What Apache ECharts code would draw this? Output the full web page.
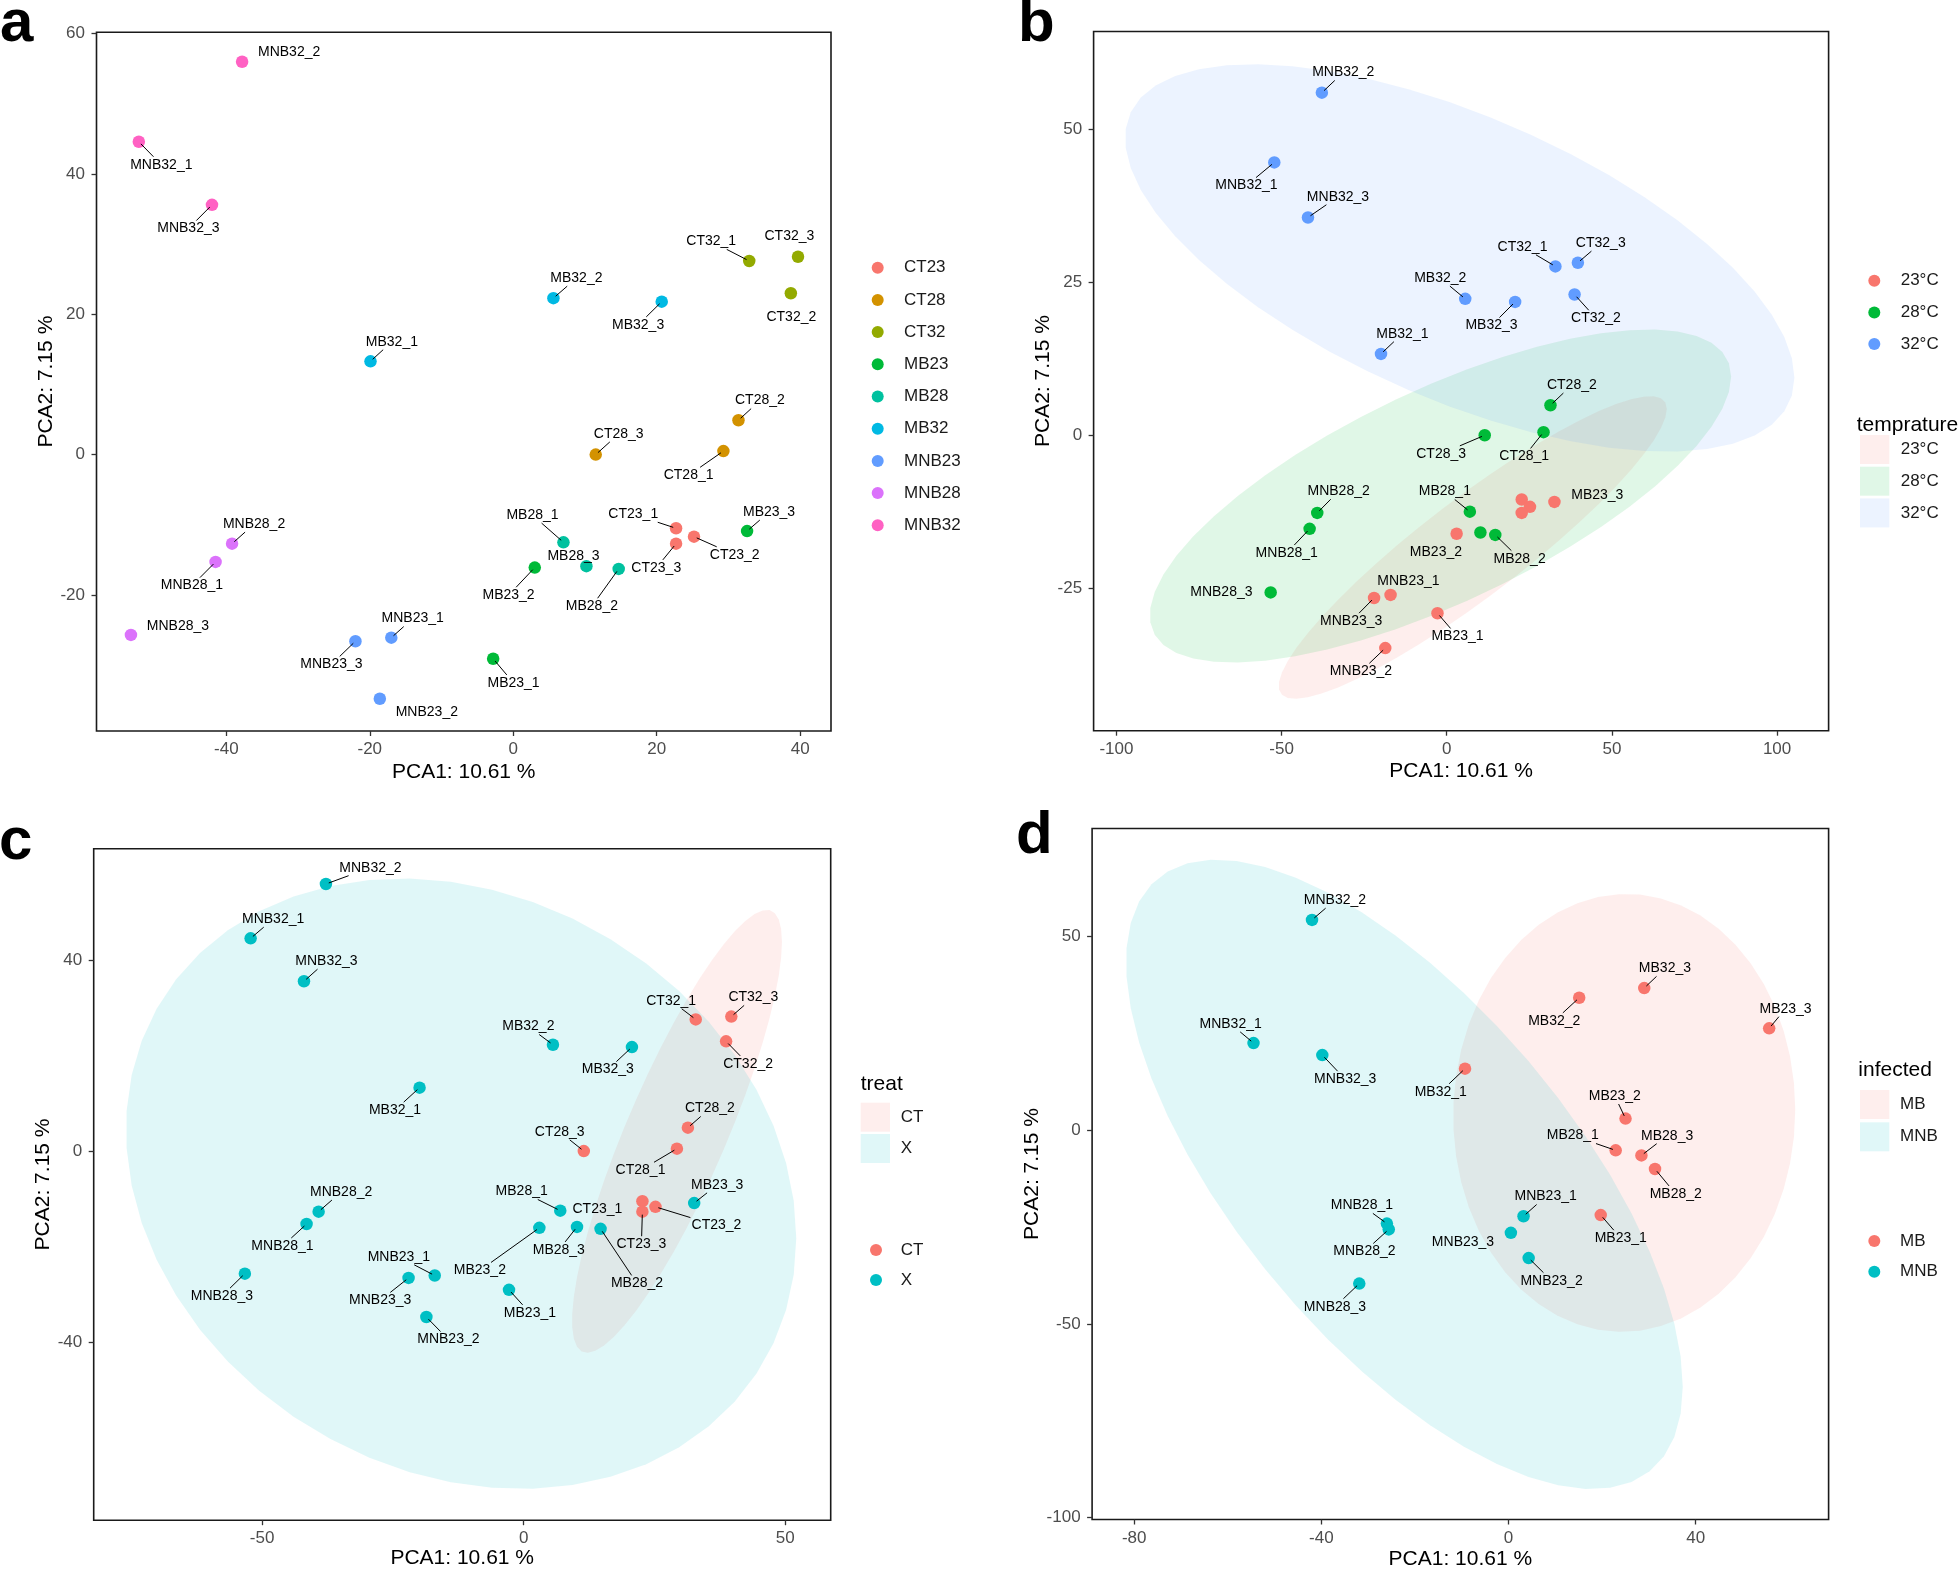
<!DOCTYPE html>
<html>
<head>
<meta charset="utf-8">
<script src="https://cdn.jsdelivr.net/npm/echarts@6/dist/echarts.min.js"></script>
<style>
html,body{margin:0;padding:0;background:#fff;}
#chart{width:1960px;height:1571px;}
</style>
</head>
<body>
<div id="chart"></div>
<script>
// ---------------- DATA ----------------
const sampleNames = ['CT23_1','CT23_2','CT23_3','CT28_1','CT28_2','CT28_3','CT32_1','CT32_2','CT32_3',
  'MB23_1','MB23_2','MB23_3','MB28_1','MB28_2','MB28_3','MB32_1','MB32_2','MB32_3',
  'MNB23_1','MNB23_2','MNB23_3','MNB28_1','MNB28_2','MNB28_3','MNB32_1','MNB32_2','MNB32_3'];
const pca1 = [22.7, 25.2, 22.7, 29.3, 31.4, 11.5, 32.9, 38.7, 39.7,
  -2.8, 3.0, 32.6, 7.0, 14.7, 10.2, -19.9, 5.6, 20.7,
  -17.0, -18.6, -22.0, -41.5, -39.2, -53.3, -52.2, -37.8, -42.0];
const pca2 = [-10.5, -11.7, -12.7, 0.5, 4.9, 0.0, 27.6, 23.0, 28.2,
  -29.1, -16.1, -10.9, -12.5, -16.3, -15.9, 13.3, 22.3, 21.8,
  -26.1, -34.8, -26.6, -15.3, -12.7, -25.7, 44.6, 56.0, 35.6];

const infNames = ['MB23_1','MB23_2','MB23_3','MB28_1','MB28_2','MB28_3','MB32_1','MB32_2','MB32_3',
  'MNB23_1','MNB23_2','MNB23_3','MNB28_1','MNB28_2','MNB28_3','MNB32_1','MNB32_2','MNB32_3'];
const infPca1 = [19.7, 25.0, 55.7, 22.9, 31.3, 28.4, -9.3, 15.1, 29.0,
  3.2, 4.3, 0.5, -26.0, -25.6, -31.9, -54.5, -42.0, -39.8];
const infPca2 = [-21.9, 3.0, 26.3, -5.2, -10.0, -6.5, 15.9, 34.2, 36.7,
  -22.2, -33.0, -26.5, -24.1, -25.6, -39.6, 22.5, 54.3, 19.4];

const groupLevels = ['CT23','CT28','CT32','MB23','MB28','MB32','MNB23','MNB28','MNB32'];
const tempLevels = ['23°C','28°C','32°C'];
const treatLevels = ['CT','X'];
const infectedLevels = ['MB','MNB'];

const ticksAx = [-40,-20,0,20,40], ticksAy = [-20,0,20,40,60];
const ticksBx = [-100,-50,0,50,100], ticksBy = [-25,0,25,50];
const ticksCx = [-50,0,50], ticksCy = [-40,0,40];
const ticksDx = [-80,-40,0,40], ticksDy = [-100,-50,0,50];

const xTitle = 'PCA1: 10.61 %', yTitle = 'PCA2: 7.15 %';

// ---------------- STYLE / LAYOUT ----------------
const FONT = '"Liberation Sans", Arial, sans-serif';
const groupColors = ['#F8766D','#D39200','#93AA00','#00BA38','#00C19F','#00B9E3','#619CFF','#DB72FB','#FF61C3'];
const tempColors = ['#F8766D','#00BA38','#619CFF'];
const twoColors = ['#F8766D','#00BFC4'];
const FILL_ALPHA = 0.12;

const grids = [
  {left: 96.5, top: 32.3, width: 734.5, height: 698.7},
  {left: 1093.6, top: 31.5, width: 735, height: 699.2},
  {left: 93.7, top: 848.7, width: 737, height: 671.5},
  {left: 1092.1, top: 828.5, width: 736.5, height: 691}
];
const ranges = [
  {x: [-58.1, 44.3], y: [-39.4, 60.2]},
  {x: [-106.9, 115.6], y: [-48.3, 66.0]},
  {x: [-82.2, 58.7], y: [-77.4, 63.4]},
  {x: [-89.0, 68.4], y: [-100.5, 77.9]}
];
const xNameGap = [41, 41, 38, 39.5];
const yNameGap = [49.4, 50, 46.6, 59.2];

// label offsets (px): [dx, dy, segment]
const offA = {
  MNB32_2:[47,-10,0], MNB32_1:[22.5,23,1], MNB32_3:[-23.6,23.7,1],
  CT32_1:[-38,-19.6,1], CT32_3:[-8.6,-20.7,0], CT32_2:[0.5,23.7,0],
  MB32_2:[23,-20,1], MB32_3:[-23.6,23.2,1], MB32_1:[21.4,-19.6,1],
  CT28_2:[21.4,-19.6,1], CT28_3:[23,-20.7,1], CT28_1:[-34.8,24.2,1],
  CT23_1:[-42.8,-14,1], CT23_3:[-19.8,24.2,1], CT23_2:[40.7,18.1,1],
  MB23_3:[22,-19,1], MB28_1:[-31,-27.2,1], MB28_3:[-12.9,-10.5,0],
  MB28_2:[-26.8,37.3,1], MB23_2:[-26.2,27.7,1],
  MNB28_2:[22,-19.6,1], MNB28_1:[-23.6,23.7,1], MNB28_3:[47,-8.6,0],
  MNB23_1:[21.4,-19.1,1], MNB23_3:[-24,23.2,1], MB23_1:[20.4,24.2,1], MNB23_2:[47,13.6,0]
};
const offB = {
  MNB32_2:[21.4,-20.2,1], MNB32_1:[-27.9,23.2,1], MNB32_3:[30,-20.7,1],
  CT32_1:[-32.9,-19.6,1], CT32_3:[22.9,-19.6,1], CT32_2:[21.4,23.7,1],
  MB32_2:[-25,-20.7,1], MB32_3:[-23.6,23.7,1], MB32_1:[21.4,-20.2,1],
  CT28_2:[21.4,-20.2,1], CT28_3:[-43.6,18.6,1], CT28_1:[-19.3,24.2,1],
  MNB28_2:[21.4,-21.7,1], MB28_1:[-25,-20.2,1], MB23_3:[42.9,-6.5,0],
  MB23_2:[-20.7,18.1,0], MB28_2:[24.3,23.7,1], MNB28_1:[-22.9,24.2,1],
  MNB28_3:[-49.3,0,0], MNB23_1:[17.9,-14.1,0], MNB23_3:[-22.9,23.2,1],
  MB23_1:[20,23.2,1], MNB23_2:[-24.3,23.2,1]
};
const offC = {
  MNB32_2:[44.5,-16.3,1], MNB32_1:[22.5,-19.2,1], MNB32_3:[22.5,-20.1,1],
  MB32_2:[-24.6,-18.2,1], MB32_3:[-24.1,22.5,1], MB32_1:[-24.6,22.5,1],
  CT32_1:[-24.6,-18.7,1], CT32_3:[22,-19.2,1], CT32_2:[22,22.5,1],
  CT28_2:[22,-19.2,1], CT28_3:[-24.1,-19.2,1], CT28_1:[-36.4,21.6,1],
  MB23_3:[23,-18.2,1], MB28_1:[-38.6,-19.2,1], CT23_1:[-45,8.1,0],
  CT23_3:[-1,32.6,1], CT23_2:[61,18.7,1], MB28_3:[-18.2,23,1],
  MB28_2:[36.4,54.6,1], MB23_2:[-59.5,42.6,1], MB23_1:[20.9,23,1],
  MNB28_2:[22.5,-19.6,1], MNB28_1:[-24.1,22,1], MNB28_3:[-23,22.5,1],
  MNB23_1:[-35.9,-18.7,1], MNB23_3:[-28.4,22.5,1], MNB23_2:[22,22.5,1]
};
const offD = {
  MNB32_2:[22.9,-19.7,1], MNB32_1:[-22.9,-19.2,1], MNB32_3:[22.9,24.1,1],
  MB32_1:[-24.3,23.1,1], MB32_2:[-25,23.1,1], MB32_3:[20.7,-19.7,1],
  MB23_3:[16.4,-19.7,1], MB23_2:[-10.7,-22.6,1], MB28_1:[-42.9,-14.8,1],
  MB28_3:[25.7,-19.7,1], MB28_2:[20.7,25,1], MB23_1:[20,23.1,1],
  MNB23_1:[22.1,-19.7,1], MNB23_3:[-47.9,9.3,0], MNB23_2:[22.9,22.6,1],
  MNB28_1:[-25,-18.2,1], MNB28_2:[-24.3,22.1,1], MNB28_3:[-24.3,23.1,1]
};

// ---------------- HELPERS ----------------
const groupOf = n => n.split('_')[0];
const tempOf = n => groupOf(n).slice(-2) + '°C';
const treatOf = n => n.startsWith('CT') ? 'CT' : 'X';
const infOf = n => n.startsWith('MNB') ? 'MNB' : 'MB';

function hexToRgba(hex, a) {
  const v = parseInt(hex.slice(1), 16);
  return `rgba(${(v>>16)&255},${(v>>8)&255},${v&255},${a})`;
}

// MASS::cov.trob (multivariate t, nu = 5)
function covTrob(P) {
  const n = P.length, p = 2, nu = 5, tol = 0.01, maxit = 25;
  const wmean = w => {
    let sw = 0, sx = 0, sy = 0;
    P.forEach((q, i) => { sw += w[i]; sx += w[i]*q[0]; sy += w[i]*q[1]; });
    return [sx/sw, sy/sw];
  };
  let w = new Array(n).fill(1);
  let loc = wmean(w);
  let X;
  for (let it = 0; it < maxit; it++) {
    const w0 = w.slice();
    X = P.map(q => [q[0]-loc[0], q[1]-loc[1]]);
    const sw = w.reduce((s, v) => s + v, 0);
    let a = 0, b = 0, c = 0;
    X.forEach((x, i) => { const f = w[i]/sw; a += f*x[0]*x[0]; b += f*x[0]*x[1]; c += f*x[1]*x[1]; });
    const det = a*c - b*b;
    w = X.map(x => (nu + p) / (nu + (c*x[0]*x[0] - 2*b*x[0]*x[1] + a*x[1]*x[1]) / det));
    loc = wmean(w);
    if (w.every((v, i) => Math.abs(v - w0[i]) < tol)) break;
  }
  let a = 0, b = 0, c = 0;
  X.forEach((x, i) => { a += w[i]*x[0]*x[0]; b += w[i]*x[0]*x[1]; c += w[i]*x[1]*x[1]; });
  return {center: loc, cov: [a/n, b/n, c/n]};
}

// ggplot2::stat_ellipse (type "t", level 0.95, 51 segments)
function ellipsePoints(P, level = 0.95, segments = 51) {
  const {center, cov} = covTrob(P);
  const dfd = P.length - 1;
  const qf = (dfd/2) * (Math.pow(1 - level, -2/dfd) - 1);
  const radius = Math.sqrt(2 * qf);
  const r11 = Math.sqrt(cov[0]), r12 = cov[1]/r11, r22 = Math.sqrt(cov[2] - r12*r12);
  const out = [];
  for (let i = 0; i <= segments; i++) {
    const t = i * 2 * Math.PI / segments;
    const u = Math.cos(t), v = Math.sin(t);
    out.push([center[0] + radius*u*r11, center[1] + radius*(u*r12 + v*r22)]);
  }
  return out;
}

const measureCtx = document.createElement('canvas').getContext('2d');
const LABEL_FONT = '14px ' + FONT;
measureCtx.font = LABEL_FONT;
const textW = s => measureCtx.measureText(s).width;

function axesFor(i, tx, ty) {
  const common = {
    gridIndex: i, type: 'value', splitLine: {show: false},
    axisLine: {show: false, onZero: false},
    nameLocation: 'middle',
    nameTextStyle: {fontSize: 21, color: '#000', fontFamily: FONT, verticalAlign: 'middle'}
  };
  return {
    x: Object.assign({}, common, {
      position: 'bottom',
      min: ranges[i].x[0], max: ranges[i].x[1], name: xTitle, nameGap: xNameGap[i],
      axisTick: {show: true, length: 5, lineStyle: {color: '#333', width: 1.3}, customValues: tx},
      axisLabel: {customValues: tx, color: '#4D4D4D', fontSize: 17, fontFamily: FONT, margin: 10}
    }),
    y: Object.assign({}, common, {
      position: 'left',
      min: ranges[i].y[0], max: ranges[i].y[1], name: yTitle, nameGap: yNameGap[i],
      axisTick: {show: true, length: 5, lineStyle: {color: '#333', width: 1.3}, customValues: ty},
      axisLabel: {customValues: ty, color: '#4D4D4D', fontSize: 17, fontFamily: FONT, margin: 11.5}
    })
  };
}

function scatterSeries(i, name, color, names, xs, ys, pick) {
  const data = [];
  names.forEach((n, k) => { if (pick(n)) data.push([xs[k], ys[k]]); });
  return {
    type: 'scatter', name, xAxisIndex: i, yAxisIndex: i, data, z: 3,
    symbol: 'circle', symbolSize: 12.5, itemStyle: {color, opacity: 1}, silent: true
  };
}

function ellipseSeries(i, name, color, names, xs, ys, pick) {
  const P = [];
  names.forEach((n, k) => { if (pick(n)) P.push([xs[k], ys[k]]); });
  const poly = ellipsePoints(P);
  return {
    type: 'custom', name: 'fill:' + name, xAxisIndex: i, yAxisIndex: i, z: 1, silent: true,
    data: poly, encode: {x: 0, y: 1},
    renderItem: (params, api) => {
      if (params.dataIndex !== 0) return null;
      return {
        type: 'polygon',
        shape: {points: poly.map(q => api.coord(q))},
        style: {fill: hexToRgba(color, FILL_ALPHA), stroke: null}
      };
    }
  };
}

function labelSeries(i, names, xs, ys, offs) {
  return {
    type: 'custom', xAxisIndex: i, yAxisIndex: i, z: 5, silent: true,
    data: names.map((n, k) => [xs[k], ys[k], k]), encode: {x: 0, y: 1},
    renderItem: (params, api) => {
      const name = names[params.dataIndex];
      const off = offs[name];
      if (!off) return null;
      const p = api.coord([api.value(0), api.value(1)]);
      const cx = p[0] + off[0], cy = p[1] + off[1];
      const children = [{
        type: 'text',
        style: {text: name, x: cx, y: cy, align: 'center', verticalAlign: 'middle', font: LABEL_FONT, fill: '#000'}
      }];
      if (off[2]) {
        const hw = textW(name)/2 + 2, hh = 8;
        const vx = p[0] - cx, vy = p[1] - cy;
        const s = Math.min(Math.abs(vx) > 1e-9 ? hw/Math.abs(vx) : Infinity, Math.abs(vy) > 1e-9 ? hh/Math.abs(vy) : Infinity);
        const L = Math.hypot(vx, vy);
        if (s < 1) {
          children.push({
            type: 'line',
            shape: {x1: p[0] - vx/L*3, y1: p[1] - vy/L*3, x2: cx + vx*s, y2: cy + vy*s},
            style: {stroke: '#000', lineWidth: 1}
          });
        }
      }
      return {type: 'group', children};
    }
  };
}

// ---------------- BUILD OPTION ----------------
const axA = axesFor(0, ticksAx, ticksAy), axB = axesFor(1, ticksBx, ticksBy),
      axC = axesFor(2, ticksCx, ticksCy), axD = axesFor(3, ticksDx, ticksDy);

const series = [];
// panel a
groupLevels.forEach((g, k) => series.push(scatterSeries(0, g, groupColors[k], sampleNames, pca1, pca2, n => groupOf(n) === g)));
series.push(labelSeries(0, sampleNames, pca1, pca2, offA));
// panel b
tempLevels.forEach((t, k) => series.push(ellipseSeries(1, t, tempColors[k], sampleNames, pca1, pca2, n => tempOf(n) === t)));
tempLevels.forEach((t, k) => series.push(scatterSeries(1, t, tempColors[k], sampleNames, pca1, pca2, n => tempOf(n) === t)));
series.push(labelSeries(1, sampleNames, pca1, pca2, offB));
// panel c
treatLevels.forEach((t, k) => series.push(ellipseSeries(2, t, twoColors[k], sampleNames, pca1, pca2, n => treatOf(n) === t)));
treatLevels.forEach((t, k) => series.push(scatterSeries(2, t, twoColors[k], sampleNames, pca1, pca2, n => treatOf(n) === t)));
series.push(labelSeries(2, sampleNames, pca1, pca2, offC));
// panel d
infectedLevels.forEach((t, k) => series.push(ellipseSeries(3, t, twoColors[k], infNames, infPca1, infPca2, n => infOf(n) === t)));
infectedLevels.forEach((t, k) => series.push(scatterSeries(3, t, twoColors[k], infNames, infPca1, infPca2, n => infOf(n) === t)));
series.push(labelSeries(3, infNames, infPca1, infPca2, offD));

// legends & panel tags (graphic)
const G = [];
const LEG_FONT = '17px ' + FONT, LEG_TITLE_FONT = '21px ' + FONT;
function pointLegend(x, y0, step, labels, colors, textX) {
  labels.forEach((l, k) => {
    G.push({type: 'circle', shape: {cx: x, cy: y0 + k*step, r: 6}, style: {fill: colors[k]}});
    G.push({type: 'text', style: {text: l, x: textX, y: y0 + k*step, verticalAlign: 'middle', font: LEG_FONT, fill: '#1a1a1a'}});
  });
}
function fillLegend(title, tx, ty, x, top0, step, labels, colors, textX) {
  G.push({type: 'text', style: {text: title, x: tx, y: ty, verticalAlign: 'middle', font: LEG_TITLE_FONT, fill: '#000'}});
  labels.forEach((l, k) => {
    G.push({type: 'rect', shape: {x, y: top0 + k*step, width: 29.3, height: 29}, style: {fill: hexToRgba(colors[k], FILL_ALPHA)}});
    G.push({type: 'text', style: {text: l, x: textX, y: top0 + k*step + 14.5, verticalAlign: 'middle', font: LEG_FONT, fill: '#1a1a1a'}});
  });
}
pointLegend(877.7, 267.7, 32.2, groupLevels, groupColors, 904);
pointLegend(1874.3, 280.7, 31.7, tempLevels, tempColors, 1900.7);
fillLegend('temprature', 1856.7, 425, 1860, 435, 31.7, tempLevels, tempColors, 1900.7);
fillLegend('treat', 860.7, 1084, 860.7, 1102.7, 31.3, treatLevels, twoColors, 900.7);
pointLegend(876, 1250, 30, treatLevels, twoColors, 900.7);
fillLegend('infected', 1858.3, 1070.7, 1860, 1090, 32.3, infectedLevels, twoColors, 1900);
pointLegend(1874.3, 1241, 30.7, infectedLevels, twoColors, 1900);

const TAG_FONT = 'bold 60px ' + FONT;
[['a', 0, 24.2], ['b', 1018, 24.2], ['c', -1, 842], ['d', 1016, 836]].forEach(t => {
  G.push({type: 'text', style: {text: t[0], x: t[1], y: t[2], verticalAlign: 'middle', font: TAG_FONT, fill: '#000'}});
});

const option = {
  backgroundColor: '#fff',
  animation: false,
  grid: grids.map(g => Object.assign({show: true, borderColor: '#1a1a1a', borderWidth: 1.6, backgroundColor: 'transparent', containLabel: false}, g)),
  xAxis: [axA.x, axB.x, axC.x, axD.x],
  yAxis: [axA.y, axB.y, axC.y, axD.y],
  series,
  graphic: {elements: G}
};

const chart = echarts.init(document.getElementById('chart'), null, {renderer: 'canvas'});
chart.setOption(option);
</script>
</body>
</html>
